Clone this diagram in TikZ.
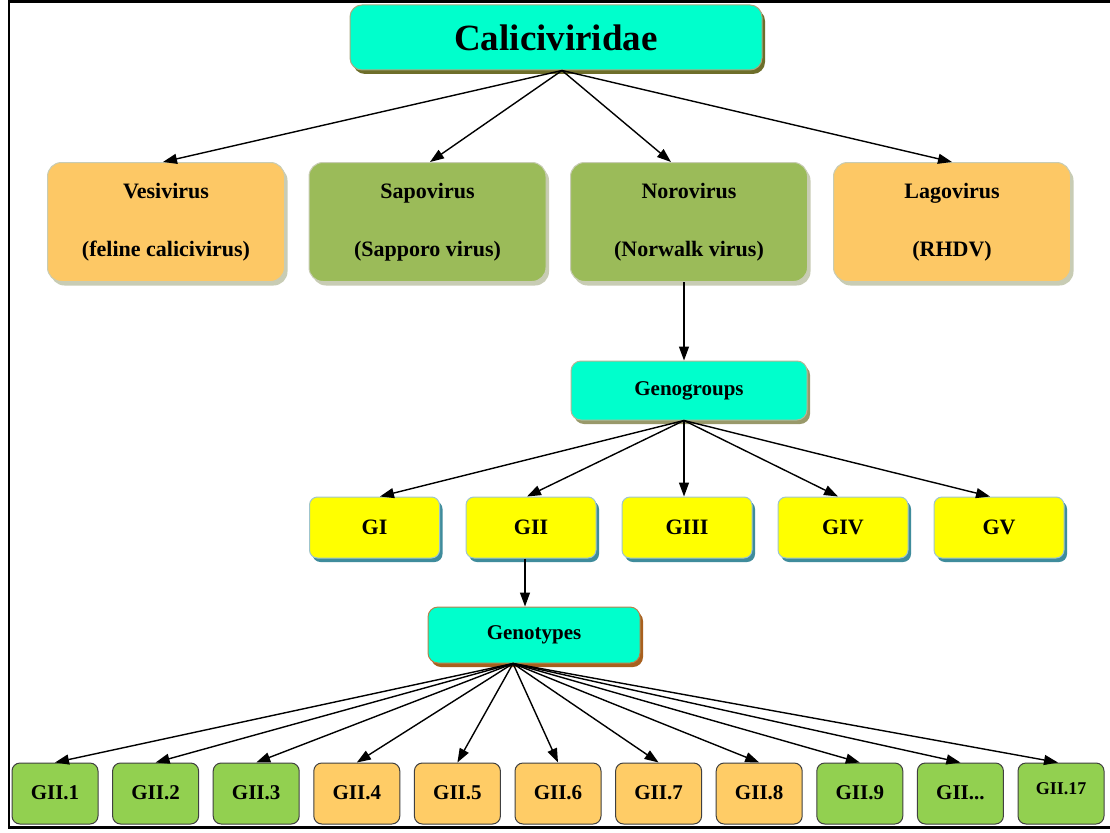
\documentclass[tikz,border=0pt]{standalone}
\usepackage{fontspec}
\setmainfont{Liberation Serif}
\usetikzlibrary{arrows.meta,shadows}
\definecolor{cyanc}{HTML}{00FFCC}
\definecolor{greentop}{HTML}{9BBB59}
\definecolor{orangetop}{HTML}{FDC865}
\definecolor{yellowc}{HTML}{FFFF00}
\definecolor{greenbot}{HTML}{92D050}
\definecolor{orangebot}{HTML}{FFCC66}
\definecolor{olivesh}{HTML}{6E6E2A}
\definecolor{palesh}{HTML}{C8CCB4}
\definecolor{tealsh}{HTML}{3F8C9C}
\definecolor{brownsh}{HTML}{A8601E}
\tikzset{
  x=1pt,y=-1pt,
  base/.style={rounded corners=10pt, inner sep=0pt, font=\bfseries\fontsize{21}{25}\selectfont, align=center},
  titlebox/.style={base, fill=cyanc, draw=olivesh!60, line width=1pt, minimum width=412pt, minimum height=65pt,
     font=\bfseries\fontsize{37}{40}\selectfont, rounded corners=12pt,
     drop shadow={shadow xshift=3pt, shadow yshift=-4pt, fill=olivesh, opacity=1}},
  genusbox/.style={base, draw=palesh, line width=1pt, minimum width=237pt, minimum height=119pt, rounded corners=14pt,
     font=\bfseries\fontsize{22}{25}\selectfont,
     drop shadow={shadow xshift=3pt, shadow yshift=-4pt, fill=palesh, opacity=1}},
  groupbox/.style={base, fill=cyanc, draw=olivesh!50, line width=1pt, minimum width=236pt, minimum height=59pt,
     drop shadow={shadow xshift=3pt, shadow yshift=-4pt, fill=olivesh!70, opacity=1}},
  typebox/.style={base, fill=cyanc, draw=brownsh!80, line width=1pt, minimum width=212pt, minimum height=56pt,
     drop shadow={shadow xshift=3pt, shadow yshift=-4pt, fill=brownsh, opacity=1}},
  gbox/.style={base, fill=yellowc, draw=tealsh!50, line width=1pt, minimum width=130pt, minimum height=61pt, rounded corners=8pt,
     font=\bfseries\fontsize{22}{25}\selectfont,
     drop shadow={shadow xshift=3pt, shadow yshift=-4pt, fill=tealsh, opacity=1}},
  gtbox/.style={base, draw=black!75, line width=1pt, minimum width=86pt, minimum height=61pt, rounded corners=8pt},
  arr/.style={line width=1.4pt, -{Triangle[length=14pt,width=10pt]}},
}
\begin{document}
\begin{tikzpicture}
\useasboundingbox (0,0) rectangle (1110,832);
\fill[white] (0,0) rectangle (1110,832);
\draw[line width=2.5pt] (1110,1.3) -- (9,1.3) -- (9,827.5) -- (1110,827.5);

\node[titlebox] (cal) at (556,37.5) {Caliciviridae};

\node[genusbox, fill=orangetop] (ves) at (166,222) {Vesivirus\\[33pt](feline calicivirus)};
\node[genusbox, fill=greentop] (sap) at (427.5,222) {Sapovirus\\[33pt](Sapporo virus)};
\node[genusbox, fill=greentop] (noro) at (689,222) {Norovirus\\[33pt](Norwalk virus)};
\node[genusbox, fill=orangetop] (lago) at (952,222) {Lagovirus\\[33pt](RHDV)};

\draw[arr] ([xshift=6pt]cal.south) -- ([xshift=-3pt]ves.north);
\draw[arr] ([xshift=6pt]cal.south) -- ([xshift=2.5pt]sap.north);
\draw[arr] ([xshift=6pt]cal.south) -- ([xshift=-18pt]noro.north);
\draw[arr] ([xshift=6pt]cal.south) -- (lago.north);

\node[groupbox] (gg) at (689,390.5) {Genogroups};
\draw[arr] ([xshift=-5pt]noro.south) -- ([xshift=-5pt]gg.north);

\node[gbox] (g1) at (374.5,527.5) {GI};
\node[gbox] (g2) at (531,527.5) {GII};
\node[gbox] (g3) at (687,527.5) {GIII};
\node[gbox] (g4) at (843,527.5) {GIV};
\node[gbox] (g5) at (999,527.5) {GV};

\draw[arr] ([xshift=-5pt]gg.south) -- ([xshift=5.5pt]g1.north);
\draw[arr] ([xshift=-5pt]gg.south) -- ([xshift=-4pt]g2.north);
\draw[arr] ([xshift=-5pt]gg.south) -- ([xshift=-3pt]g3.north);
\draw[arr] ([xshift=-5pt]gg.south) -- ([xshift=-5pt]g4.north);
\draw[arr] ([xshift=-5pt]gg.south) -- ([xshift=-9pt]g5.north);

\node[typebox] (gt) at (534,635) {Genotypes};
\draw[arr] ([xshift=-6pt]g2.south) -- ([xshift=-9pt]gt.north);

\foreach \i/\lab/\col in {0/GII.1/greenbot, 1/GII.2/greenbot, 2/GII.3/greenbot, 3/GII.4/orangebot,
   4/GII.5/orangebot, 5/GII.6/orangebot, 6/GII.7/orangebot, 7/GII.8/orangebot,
   8/GII.9/greenbot}{
  \node[gtbox, fill=\col] (b\i) at ({55+100.6*\i},793.5) {\raisebox{2pt}{\lab}};
  \draw[arr] ([xshift=-21pt]gt.south) -- (b\i.north);
}
\node[gtbox, fill=greenbot] (b9) at (960.4,793.5) {\raisebox{2pt}{GII...}};
\draw[arr] ([xshift=-21pt]gt.south) -- (b9.north);
\node[gtbox, fill=greenbot, font=\bfseries\fontsize{18}{20}\selectfont] (b10) at (1061,793.5) {\raisebox{10pt}{GII.17}};
\draw[arr] ([xshift=-21pt]gt.south) -- ([xshift=-3pt]b10.north);
\end{tikzpicture}
\end{document}
